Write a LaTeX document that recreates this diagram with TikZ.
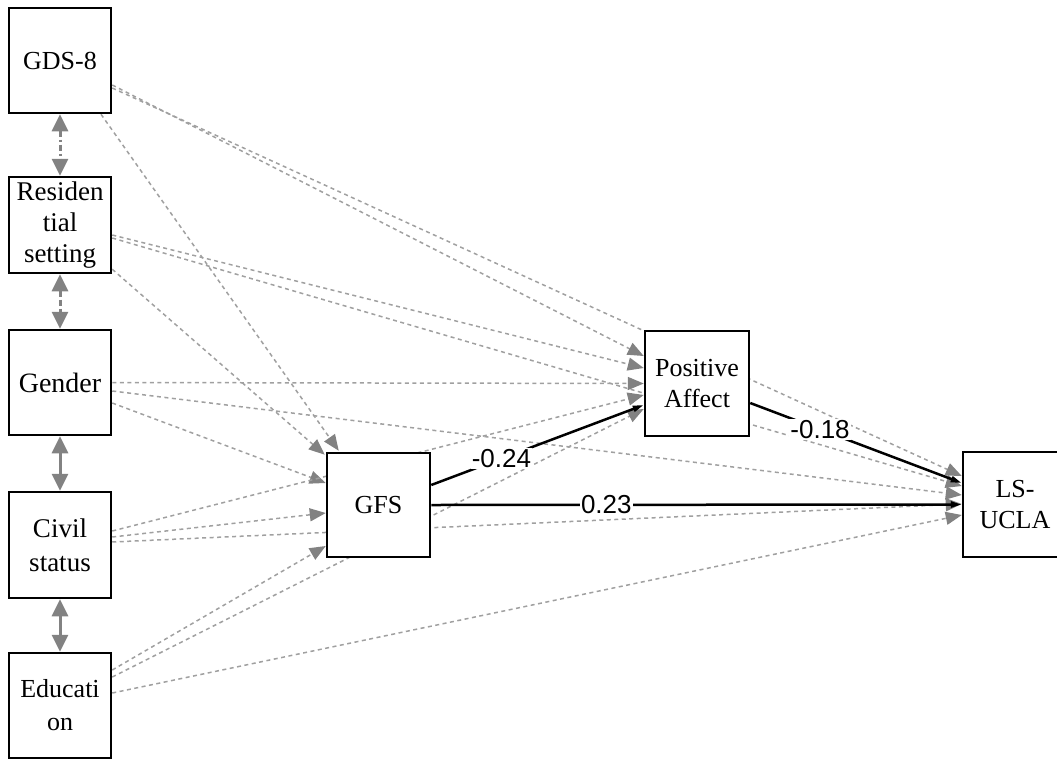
\documentclass[tikz,border=0pt]{standalone}
\usepackage{fontspec}
\setmainfont{Liberation Serif}
\setsansfont{Liberation Sans}
\usetikzlibrary{arrows.meta,calc}
\pgfdeclarelayer{bg}
\pgfsetlayers{bg,main}
\definecolor{dgray}{HTML}{A0A0A0}
\definecolor{agray}{HTML}{828282}
\tikzset{
 var/.style={draw=black, line width=2.5pt, fill=white, minimum width=102pt, minimum height=105pt, inner sep=0pt, align=center, font=\fontsize{26}{32}\selectfont},
 cov/.style={dgray, line width=1.5pt, dash pattern=on 4pt off 3.5pt, -{Triangle[length=16pt,width=13pt,fill=agray,color=agray]}},
 reg/.style={black, line width=2.5pt, -{Triangle[length=11pt,width=6pt]}},
 corr/.style={agray, line width=3pt, {Triangle[length=17pt,width=16pt]}-{Triangle[length=17pt,width=16pt]}},
 est/.style={fill=white, inner sep=1pt, font=\fontsize{26}{26}\selectfont\sffamily, pos=0.33}
}
\begin{document}
\begin{tikzpicture}[x=1pt,y=-1pt]
\useasboundingbox (0,0) rectangle (1057,758);
% nodes
\node[var] (gds) at (60,60.5) {GDS-8};
\node[var, minimum height=96pt, font=\fontsize{27}{31}\selectfont] (res) at (60,225) {Residen\\tial\\setting};
\node[var, font=\fontsize{28}{32}\selectfont] (gen) at (60,382.5) {Gender};
\node[var, minimum height=106pt, font=\fontsize{27}{34}\selectfont] (civ) at (60,545) {Civil\\status};
\node[var, font=\fontsize{26}{33}\selectfont] (edu) at (60,705.5) {Educati\\on};
\node[var, minimum width=103pt, minimum height=104pt] (gfs) at (378.5,505) {GFS};
\node[var, minimum width=104pt, font=\fontsize{26}{31}\selectfont] (pa) at (697,383.5) {Positive\\Affect};
\node[var, minimum width=104pt, font=\fontsize{26}{31}\selectfont] (ls) at (1015,504.5) {LS-\\UCLA};
% dashed covariate paths (behind boxes)
\begin{pgfonlayer}{bg}
\draw[cov] ($(gds.east)+(0,24.5)$) -- ($(pa.west)+(0,-27.5)$);
\draw[cov] ($(gds.east)+(0,27.5)$) -- ($(ls.west)+(0,-28.5)$);
\draw[cov] ($(gds.south)+(41,0)$) -- ($(gfs.north west)+(13,-1)$);
\draw[cov] ($(res.east)+(0,10)$) -- ($(pa.west)+(0,-15.5)$);
\draw[cov] ($(res.east)+(0,13)$) -- ($(ls.west)+(0,-18.5)$);
\draw[cov] ($(res.south east)+(0,-5)$) -- ($(gfs.north west)+(-1,3)$);
\draw[cov] (gen.east) -- (pa.west);
\draw[cov] ($(gen.east)+(0,8.5)$) -- ($(ls.west)+(0,-9.5)$);
\draw[cov] ($(gen.east)+(0,20.5)$) -- ($(gfs.west)+(0,-22)$);
\draw[cov] ($(civ.east)+(0,-14)$) -- ($(pa.west)+(0,11.5)$);
\draw[cov] ($(civ.east)+(0,-8)$) -- ($(gfs.west)+(0,8)$);
\draw[cov] ($(civ.east)+(0,-3)$) -- ($(ls.west)+(0,-0.5)$);
\draw[cov] ($(edu.east)+(0,-35.5)$) -- ($(gfs.west)+(0,41)$);
\draw[cov] ($(edu.east)+(0,-28.5)$) -- ($(pa.west)+(0,25.5)$);
\draw[cov] ($(edu.east)+(0,-12.5)$) -- ($(ls.west)+(0,10.5)$);
\end{pgfonlayer}
% correlations
\draw[corr, dash pattern=on 6pt off 3pt on 2pt off 3pt] (gds.south) -- (res.north);
\draw[corr, dash pattern=on 6pt off 3pt] (res.south) -- (gen.north);
\draw[corr] (gen.south) -- (civ.north);
\draw[corr] (civ.south) -- (edu.north);
% significant paths
\draw[reg] ($(gfs.east)+(0,-20)$) -- node[est]{-0.24} ($(pa.west)+(0,21.5)$);
\draw[reg] (gfs.east) -- node[est]{0.23} (ls.west);
\draw[reg] ($(pa.east)+(0,19.5)$) -- node[est]{-0.18} ($(ls.west)+(0,-21.5)$);
\end{tikzpicture}
\end{document}
